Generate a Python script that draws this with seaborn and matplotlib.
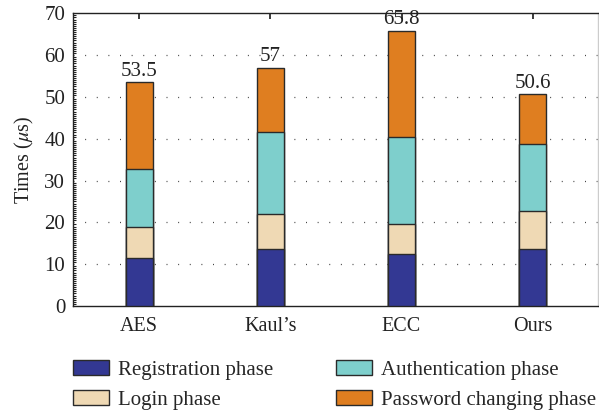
import matplotlib
matplotlib.use("Agg")
import matplotlib.pyplot as plt
import matplotlib.patches as mpatches
from matplotlib.ticker import MultipleLocator
import numpy as np
import pandas as pd
import seaborn as sns

# Per-phase computation time (microseconds) for each scheme
schemes = ["AES", "Kaul\u2019s", "ECC", "Ours"]
registration = [11.4, 13.7, 12.5, 13.7]
login = [7.5, 8.4, 7.2, 8.9]
authentication = [13.9, 19.5, 20.7, 16.2]
password_change = [20.7, 15.4, 25.4, 11.8]
totals = ["53.5", "57", "65.8", "50.6"]

phase_names = ["Registration phase", "Login phase",
               "Authentication phase", "Password changing phase"]
phase_colors = ["#333893", "#EFD9B4", "#7ECFCC", "#DF7E20"]

df = pd.DataFrame({
    "scheme": schemes,
    "Registration phase": registration,
    "Login phase": login,
    "Authentication phase": authentication,
    "Password changing phase": password_change,
})
cum = df[phase_names].cumsum(axis=1)

sns.set_theme(style="white")
plt.rcParams["font.family"] = ["Liberation Serif", "DejaVu Serif"]
plt.rcParams["mathtext.fontset"] = "stix"

fig = plt.figure(figsize=(5.99, 4.12), dpi=100)
ax = fig.add_axes([0.1227, 0.2573, 0.8763, 0.7104])

# Stack by overlaying cumulative bars, tallest first
for name, color in zip(reversed(phase_names), reversed(phase_colors)):
    sns.barplot(x=df["scheme"], y=cum[name], color=color, saturation=1,
                width=0.205, edgecolor="#2a2a2a", linewidth=1.0, ax=ax,
                zorder=3)

for i, t in enumerate(totals):
    ax.text(i, float(t) + 0.4, t, ha="center", va="bottom",
            fontsize=15, color="#222222", zorder=4)

ax.set_xlim(-0.5, 3.5)
ax.set_ylim(0, 70)
ax.yaxis.set_major_locator(MultipleLocator(10))
ax.yaxis.set_minor_locator(MultipleLocator(0.5))
for y in range(10, 70, 10):
    ax.axhline(y, color="#444444", linewidth=0.9,
               linestyle=(0, (0.8, 8.5)), zorder=1)

ax.set_xlabel("")
ax.set_ylabel(r"Times ($\mu$s)", fontsize=14.5, color="#222222", labelpad=6)
ax.tick_params(axis="x", which="major", direction="in", length=4, top=True,
               bottom=True, labelsize=14.5, colors="#222222", pad=8)
ax.tick_params(axis="y", which="major", direction="in", length=4,
               labelsize=15, colors="#222222", pad=6)
ax.tick_params(axis="y", which="minor", direction="in", length=2.5,
               left=True, width=0.8, color="#222222")
for side, sp in ax.spines.items():
    sp.set_color("#222222")
    sp.set_linewidth(1.0)
ax.spines["right"].set_color("#cccccc")

handles = [mpatches.Patch(facecolor=c, edgecolor="#2a2a2a", linewidth=1.0)
           for c in phase_colors]
fig.legend(handles, phase_names, loc="upper left",
           bbox_to_anchor=(0.1224, 0.127), ncol=2, frameon=False,
           fontsize=15, handlelength=1.73, handleheight=0.75,
           handletextpad=0.43, columnspacing=3.0, labelspacing=0.5,
           borderpad=0.0, borderaxespad=0.0)

fig.savefig("out.png", dpi=100)
